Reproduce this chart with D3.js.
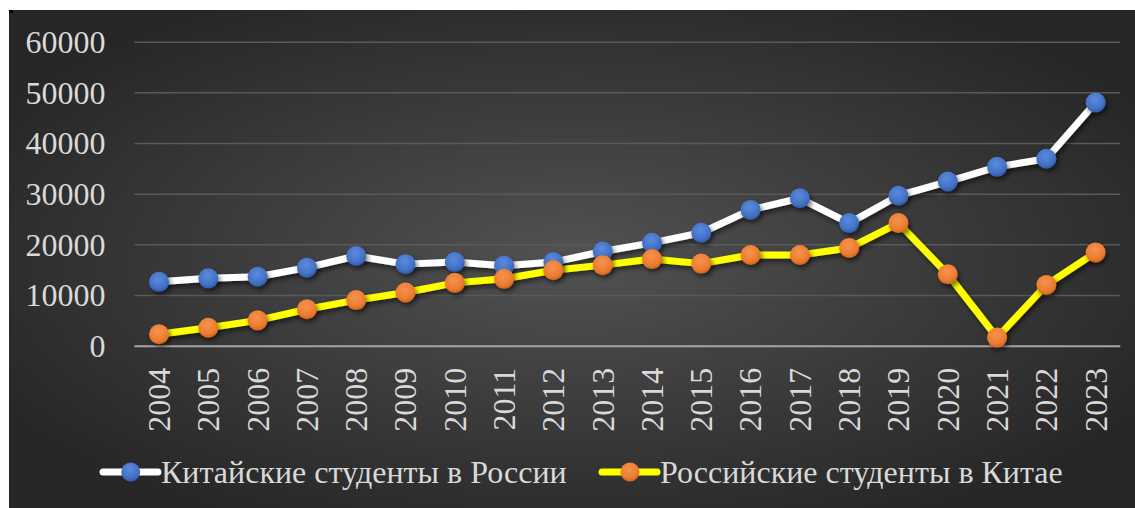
<!DOCTYPE html>
<html><head><meta charset="utf-8">
<script src="https://cdn.jsdelivr.net/npm/d3@7"></script>
<style>html,body{margin:0;padding:0;background:#fff;}svg{display:block;}</style>
</head><body>
<script>
const years = ["2004","2005","2006","2007","2008","2009","2010","2011","2012","2013","2014","2015","2016","2017","2018","2019","2020","2021","2022","2023"];
const chineseInRussia = [12600,13300,13600,15400,17700,16100,16500,15800,16500,18600,20300,22300,26800,29100,24200,29600,32400,35300,36900,48000];
const russiansInChina = [2250,3550,5000,7200,9000,10500,12400,13200,14900,15900,17100,16200,17900,17900,19300,24200,14100,1600,12000,18400];
const yTicks = [0,10000,20000,30000,40000,50000,60000];
const seriesNames = ["Китайские студенты в России","Российские студенты в Китае"];

const W = 1135, H = 508;
const svg = d3.select("body").append("svg").attr("width", W).attr("height", H);
const defs = svg.append("defs");
const rg = defs.append("radialGradient").attr("id","bg").attr("cx","50%").attr("cy","50%").attr("r","60%");
rg.append("stop").attr("offset","0%").attr("stop-color","#525252");
rg.append("stop").attr("offset","100%").attr("stop-color","#262626");
const sh = defs.append("filter").attr("id","sh").attr("x","-50%").attr("y","-50%").attr("width","200%").attr("height","200%");
sh.append("feDropShadow").attr("dx",2).attr("dy",3).attr("stdDeviation",2.5).attr("flood-color","#000").attr("flood-opacity",0.55);
function grad(id, light, base, dark){
  const g = defs.append("radialGradient").attr("id",id).attr("cx","45%").attr("cy","35%").attr("r","65%");
  g.append("stop").attr("offset","0%").attr("stop-color",light);
  g.append("stop").attr("offset","70%").attr("stop-color",base);
  g.append("stop").attr("offset","100%").attr("stop-color",dark);
}
grad("gb","#5a8ae0","#4472C4","#2f5aa8");
grad("go","#f5934f","#ED7D31","#d0651d");

svg.append("rect").attr("x",9).attr("y",10).attr("width",W-9).attr("height",H-10).attr("fill","url(#bg)");
svg.append("rect").attr("x",9).attr("y",10).attr("width",4).attr("height",3).attr("fill","#000");

const x = d3.scaleBand().domain(years).range([134.4,1120.3]);
const y = d3.scaleLinear().domain([0,60000]).range([345.7,41.7]);
const txt = "#d9d9d9";
const fs = "32px";
const ff = '"Liberation Serif"';

const yAxis = d3.axisLeft(y).tickValues(yTicks).tickSize(-(1120.3-134.4)).tickFormat(d=>d).tickPadding(29);
const gy = svg.append("g").attr("transform","translate(134.4,0)").call(yAxis);
gy.select(".domain").remove();
gy.selectAll(".tick line").attr("stroke","#595959").attr("stroke-width",1.5);
gy.selectAll(".tick").filter(d=>d===0).select("line").attr("stroke","#a6a6a6").attr("stroke-width",2);
gy.selectAll(".tick text").attr("fill",txt).style("font-family",ff).style("font-size",fs).attr("dy","0.34em");

const xAxis = d3.axisBottom(x).tickSize(0).tickPadding(0);
const gx = svg.append("g").attr("transform","translate(0,345.7)").call(xAxis);
gx.select(".domain").remove();
gx.selectAll(".tick text").attr("fill",txt).style("font-family",ff).style("font-size",fs)
  .attr("text-anchor","end").attr("transform","translate(0,22) rotate(-90)").attr("dy","0.34em").attr("x",0).attr("y",0);

const line = d3.line().x((d,i)=>x(years[i])+x.bandwidth()/2).y(d=>y(d));
const series = [
  {vals: chineseInRussia, stroke:"#ffffff", fill:"url(#gb)"},
  {vals: russiansInChina, stroke:"#ffff00", fill:"url(#go)"}
];
series.forEach(s=>{
  svg.append("path").datum(s.vals).attr("d",line).attr("fill","none").attr("stroke",s.stroke)
    .attr("stroke-width",7).attr("stroke-linejoin","round").attr("filter","url(#sh)");
});
series.forEach(s=>{
  svg.append("g").selectAll("circle").data(s.vals).join("circle")
    .attr("cx",(d,i)=>x(years[i])+x.bandwidth()/2).attr("cy",d=>y(d)).attr("r",10)
    .attr("fill",s.fill).attr("filter","url(#sh)");
});

const leg = [
  {x1:103,x2:158,cx:130.7,tx:161,name:seriesNames[0],s:series[0]},
  {x1:602,x2:657,cx:630,tx:660,name:seriesNames[1],s:series[1]}
];
leg.forEach(l=>{
  const g = svg.append("g");
  g.append("line").attr("x1",l.x1).attr("x2",l.x2).attr("y1",472).attr("y2",472)
    .attr("stroke",l.s.stroke).attr("stroke-width",7).attr("stroke-linecap","round");
  g.append("circle").attr("cx",l.cx).attr("cy",472).attr("r",9.5).attr("fill",l.s.fill);
  g.append("text").attr("x",l.tx).attr("y",472).attr("dy","0.34em").attr("fill",txt)
    .style("font-family",ff).style("font-size",fs).text(l.name);
});
</script>
</body></html>
